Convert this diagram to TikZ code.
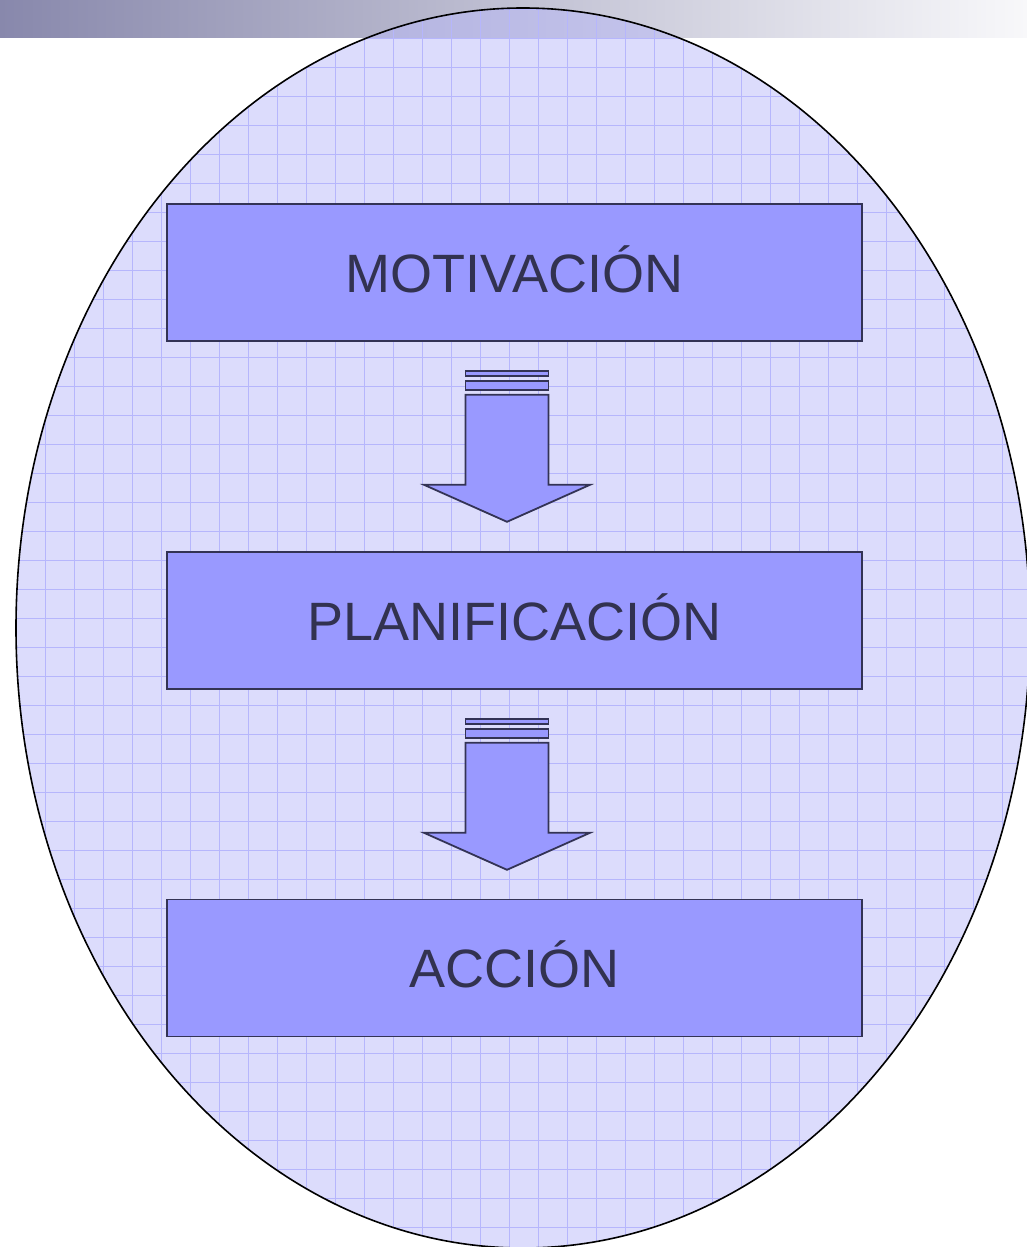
\documentclass[tikz,border=0pt]{standalone}
\usepackage{fontspec}
\setmainfont{Liberation Sans}
\usetikzlibrary{calc}
\definecolor{barL}{RGB}{136,136,172}
\definecolor{barR}{RGB}{248,248,250}
\definecolor{ellfill}{RGB}{185,185,249}
\definecolor{gridc}{RGB}{182,182,252}
\definecolor{boxfill}{RGB}{153,153,255}
\definecolor{boxline}{RGB}{51,51,85}
\definecolor{txt}{RGB}{50,50,80}
\newcommand\flowarrow[1]{%
\begin{scope}[shift={($(#1.south)+(-7.5,29)$)}]
  \draw[bigarrow] (-41.5,0) rectangle (41.5,5);
  \draw[bigarrow] (-41.5,10) rectangle (41.5,19);
  \draw[bigarrow] (-41.5,24) -- (41.5,24) -- (41.5,114) -- (83,114) -- (0,151) -- (-83,114) -- (-41.5,114) -- cycle;
\end{scope}}
\begin{document}
\begin{tikzpicture}[x=1pt,y=-1pt,
  stagebox/.style={draw=boxline, line width=1.6pt, fill=boxfill, minimum width=695pt, minimum height=137pt, inner sep=0pt, font=\fontsize{54}{60}\selectfont, text=txt, text height=39pt, text depth=0pt},
  bigarrow/.style={draw=boxline, line width=1.8pt, fill=boxfill, line join=miter}]
\useasboundingbox (0,0) rectangle (1027,1247);
\shade[left color=barL, right color=barR] (0,0) rectangle (1027,38);
\fill[ellfill, fill opacity=0.5] (523,628) ellipse [x radius=507, y radius=620];
\begin{scope}
  \clip (523,628) ellipse [x radius=507, y radius=620];
  \foreach \i in {0,...,35} { \draw[gridc, line width=0.7pt] (16+29*\i,0) -- (16+29*\i,1247); }
  \foreach \i in {0,...,43} { \draw[gridc, line width=0.7pt] (0,9+29*\i) -- (1027,9+29*\i); }
\end{scope}
\draw[black, line width=1.6pt] (523,628) ellipse [x radius=507, y radius=620];
\node[stagebox] (mot) at (514.5,272.5) {MOTIVACIÓN};
\node[stagebox] (plan) at (514.5,620.5) {PLANIFICACIÓN};
\node[stagebox] (acc) at (514.5,968) {ACCIÓN};
\flowarrow{mot}
\flowarrow{plan}
\end{tikzpicture}
\end{document}
